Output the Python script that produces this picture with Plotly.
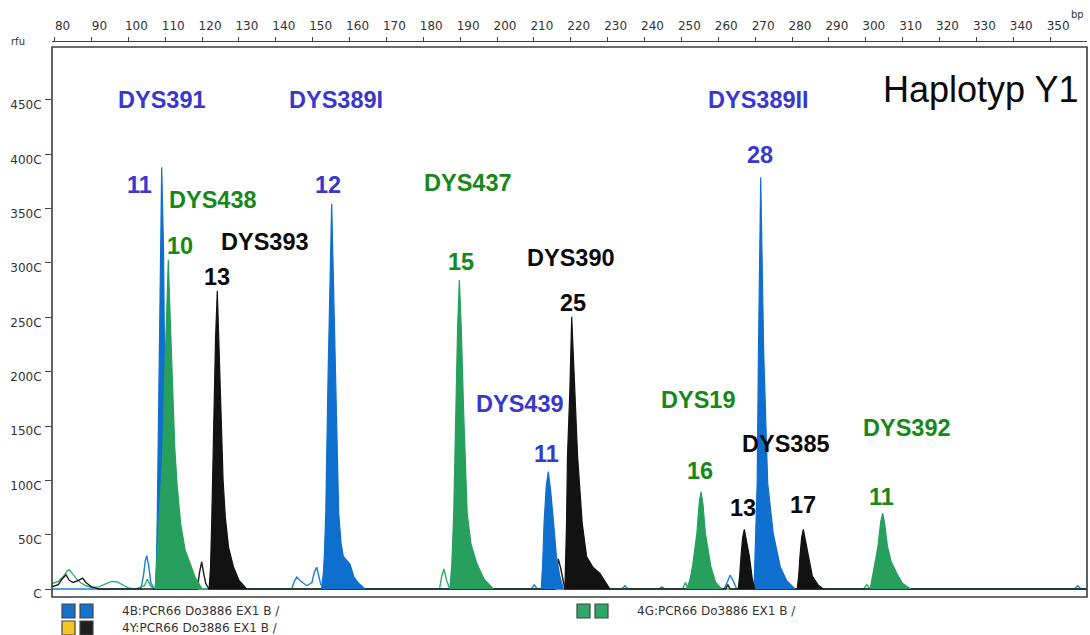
import plotly.graph_objects as go

W, H = 1090, 635

# ---------------- data ----------------
x_tickvals = list(range(80, 351, 10))
y_tickvals = [0, 500, 1000, 1500, 2000, 2500, 3000, 3500, 4000, 4500]
y_ticktext = ["C", "50C", "100C", "150C", "200C", "250C", "300C", "350C", "400C", "450C"]

# baseline / noise traces (bp, rfu)
blue_noise_bp = [79.3, 103.4, 104.1, 104.6, 105.0, 105.5, 106.1, 107.0, 112.0, 144.3, 145.0, 145.7, 146.5,
                 148.4, 149.8, 150.5, 151.1, 151.7, 152.2, 164.5, 209.3, 210.1, 210.9, 218.2, 233.9, 234.7,
                 235.5, 243.9, 244.7, 245.5, 261.6, 262.4, 263.2, 264.0, 265.0, 281.0, 356.6, 357.5, 358.4, 360.0]
blue_noise_rfu = [0, 0, 120, 260, 306, 220, 60, 0, 0, 0, 70, 110, 80,
                  30, 60, 160, 200, 120, 40, 0, 0, 40, 0, 0, 0, 30,
                  0, 0, 20, 0, 0, 60, 127, 80, 0, 0, 0, 30, 0, 0]

green_noise_bp = [79.3, 81.0, 82.5, 83.4, 84.0, 84.8, 85.8, 87.0, 88.5, 90.0, 92.0, 94.0, 95.5, 97.0, 98.5,
                  100.0, 102.0, 104.3, 105.2, 106.0, 107.0, 121.0, 184.4, 185.0, 185.6, 186.3, 187.2, 250.3,
                  251.1, 251.8, 299.4, 300.3, 301.2, 360.0]
green_noise_rfu = [50, 70, 120, 165, 178, 140, 100, 60, 30, 15, 20, 50, 70, 65, 40,
                   10, 0, 30, 90, 30, 0, 0, 0, 120, 184, 80, 0, 0,
                   60, 0, 0, 40, 0, 0]

black_noise_bp = [79.3, 81.0, 82.0, 83.1, 84.0, 85.0, 86.5, 87.6, 88.5, 90.0, 92.0, 118.7, 119.3, 119.9,
                  120.4, 121.0, 121.9, 132.5, 215.6, 216.1, 216.6, 217.2, 217.8, 218.4, 262.0, 262.6, 263.2,
                  360.0]
black_noise_rfu = [20, 40, 90, 130, 80, 60, 80, 100, 60, 20, 0, 0, 150, 250,
                   150, 50, 0, 0, 0, 150, 276, 200, 100, 0, 0, 40, 0,
                   0]

# called (filled) peaks, each as (bp list, rfu list)
blue_peaks = [
    ([107.3, 107.6, 107.85, 108.3, 108.7, 109.05, 109.55, 109.85, 110.2, 110.7, 111.3, 112.0],
     [0, 200, 665, 1890, 3120, 3880, 3120, 1890, 700, 300, 100, 0]),                  # DYS391 11
    ([152.4, 152.9, 153.15, 153.55, 154.15, 154.65, 155.15, 155.65, 156.25, 157.05, 157.7, 158.3, 159.3,
      160.1, 161.2, 162.5, 164.2],
     [0, 150, 300, 700, 1920, 2900, 3545, 2800, 1920, 700, 420, 300, 260,
      230, 110, 50, 0]),                                                               # DYS389I 12
    ([212.0, 212.4, 212.75, 213.35, 213.9, 214.55, 215.35, 216.1, 217.0, 218.0],
     [0, 250, 605, 950, 1080, 900, 605, 300, 120, 0]),                                 # DYS439 11
    ([269.7, 269.85, 270.2, 270.55, 270.9, 271.2, 271.51, 271.9, 272.3, 273.4, 274.9, 276.8, 278.5, 280.8],
     [0, 205, 513, 973, 2200, 3100, 3789, 3000, 2200, 973, 513, 205, 80, 0]),          # DYS389II 28
]
green_peaks = [
    ([107.3, 107.8, 108.6, 109.3, 109.8, 110.35, 110.84, 111.35, 112.0, 112.6, 113.2, 114.2, 115.4, 117.0,
      118.1, 120.0],
     [0, 300, 700, 1200, 1890, 2600, 3030, 2500, 1890, 1300, 970, 600, 360, 200,
      110, 0]),                                                                        # DYS438 10
    ([187.2, 187.75, 188.25, 188.8, 189.3, 189.77, 190.3, 190.95, 191.9, 192.9, 194.5, 196.5, 199.0],
     [0, 236, 697, 1617, 2400, 2843, 2400, 1617, 697, 420, 236, 90, 0]),               # DYS437 15
    ([251.4, 252.3, 253.0, 254.2, 254.85, 255.32, 255.85, 256.5, 258.0, 259.3, 260.9],
     [0, 80, 205, 513, 800, 895, 780, 513, 205, 60, 0]),                               # DYS19 16
    ([301.2, 302.0, 303.3, 304.05, 304.6, 305.15, 305.9, 306.9, 308.4, 310.0, 312.2],
     [0, 144, 389, 620, 697, 600, 389, 250, 144, 50, 0]),                              # DYS392 11
]
black_peaks = [
    ([121.9, 122.3, 122.65, 123.15, 123.65, 124.13, 124.55, 125.15, 125.7, 126.3, 127.2, 128.5, 130.0, 132.1],
     [0, 200, 665, 1590, 2300, 2745, 2300, 1590, 1000, 665, 380, 205, 80, 0]),         # DYS393 13
    ([218.4, 218.7, 218.85, 219.1, 219.75, 220.25, 221.0, 221.85, 223.1, 224.3, 226.0, 227.9, 230.6],
     [0, 297, 605, 1218, 1830, 2506, 1830, 1218, 605, 297, 200, 144, 0]),              # DYS390 25
    ([265.4, 265.8, 266.15, 266.6, 267.06, 267.6, 268.45, 269.2, 269.9],
     [0, 120, 297, 470, 549, 450, 297, 100, 0]),                                       # DYS385 13
    ([281.4, 281.8, 282.15, 282.6, 283.06, 283.6, 284.45, 285.5, 287.0, 288.5],
     [0, 120, 297, 470, 549, 450, 297, 120, 40, 0]),                                   # DYS385 17
]

# labels: (text, bp, rfu, colour key)
marker_labels = [
    ("DYS391", 109.2, 4500, "b"), ("DYS389I", 156.3, 4500, "b"), ("DYS389II", 270.8, 4500, "b"),
    ("DYS438", 123.0, 3580, "g"), ("DYS437", 192.0, 3740, "g"), ("DYS393", 137.2, 3190, "k"),
    ("DYS390", 220.1, 3050, "k"), ("DYS439", 206.3, 1700, "b"), ("DYS19", 254.5, 1740, "g"),
    ("DYS392", 311.2, 1480, "g"), ("DYS385", 278.4, 1330, "k"),
]
allele_labels = [
    ("11", 103.0, 3720, "b"), ("10", 114.0, 3160, "g"), ("13", 124.0, 2870, "k"),
    ("12", 154.1, 3720, "b"), ("15", 190.2, 3010, "g"), ("25", 220.6, 2630, "k"),
    ("11", 213.3, 1240, "b"), ("28", 271.4, 3990, "b"), ("16", 255.1, 1090, "g"),
    ("13", 266.8, 750, "k"), ("17", 283.0, 770, "k"), ("11", 304.4, 850, "g"),
]
legend_rows = [
    ("4B:PCR66 Do3886 EX1 B /", ["#1673cc", "#1673cc"], 62, 611),
    ("4Y:PCR66 Do3886 EX1 B /", ["#f5c623", "#1e1e1e"], 62, 628),
    ("4G:PCR66 Do3886 EX1 B /", ["#2fa866", "#2fa866"], 577, 611),
]

# ---------------- styles ----------------
FILL = {"b": "#0f6fcf", "g": "#27a05e", "k": "#121212"}
LINE = {"b": "#1d7fd8", "g": "#2fae66", "k": "#1a1a1a"}
TEXT = {"b": "#3838cc", "g": "#16881a", "k": "#0a0a0a"}

X_RANGE = [79.3, 360.0]
Y_RANGE = [-73.6, 4987.6]
XD = [52 / W, 1087 / W]
YD = [(H - 597) / H, (H - 47) / H]


def px(x):
    return x / W


def py(y):
    return 1 - y / H


fig = go.Figure()

for bp, rfu, key in [(blue_noise_bp, blue_noise_rfu, "b"), (green_noise_bp, green_noise_rfu, "g"),
                     (black_noise_bp, black_noise_rfu, "k")]:
    fig.add_trace(go.Scatter(x=bp, y=rfu, mode="lines", line=dict(color=LINE[key], width=1.4),
                             hoverinfo="skip", showlegend=False))

for peaks, key in [(blue_peaks, "b"), (green_peaks, "g"), (black_peaks, "k")]:
    for bp, rfu in peaks:
        fig.add_trace(go.Scatter(x=bp, y=rfu, mode="lines", fill="toself", fillcolor=FILL[key],
                                 line=dict(color=FILL[key], width=1.2), hoverinfo="skip", showlegend=False))

for txt, bp, rfu, key in marker_labels + allele_labels:
    fig.add_annotation(x=bp, y=rfu, text="<b>" + txt + "</b>", showarrow=False, xanchor="center",
                       yanchor="middle",
                       font=dict(family="Liberation Sans, Arial", size=23.5, color=TEXT[key]))

fig.add_annotation(xref="paper", yref="paper", x=px(980), y=py(90), text="Haplotyp Y1", showarrow=False,
                   xanchor="center", yanchor="middle",
                   font=dict(family="Liberation Sans, Arial", size=36, color="#0a0a0a"))
fig.add_annotation(xref="paper", yref="paper", x=px(18), y=py(42), text="rfu", showarrow=False,
                   xanchor="center", yanchor="middle", font=dict(family="DejaVu Sans", size=10, color="#333"))
fig.add_annotation(xref="paper", yref="paper", x=px(1077), y=py(14), text="bp", showarrow=False,
                   xanchor="center", yanchor="middle", font=dict(family="DejaVu Sans", size=10, color="#333"))

shapes = [dict(type="rect", xref="x domain", yref="y domain", x0=0, x1=1, y0=0, y1=1,
               line=dict(color="#3c3c3c", width=1.6), layer="above")]
for text, cols, x0, yc in legend_rows:
    for i, c in enumerate(cols):
        xa = x0 + i * 18
        shapes.append(dict(type="rect", xref="paper", yref="paper", x0=px(xa), x1=px(xa + 13),
                           y0=py(yc + 7), y1=py(yc - 7), fillcolor=c, line=dict(color="#444", width=1.2)))
    fig.add_annotation(xref="paper", yref="paper", x=px(x0 + 58), y=py(yc), text=text, showarrow=False,
                       xanchor="left", yanchor="middle",
                       font=dict(family="DejaVu Sans", size=12, color="#333"))

fig.update_layout(
    width=W, height=H,
    margin=dict(l=0, r=0, t=0, b=0),
    paper_bgcolor="white", plot_bgcolor="white",
    shapes=shapes,
    showlegend=False,
    xaxis=dict(domain=XD, range=X_RANGE, side="top", anchor="free", position=py(41),
               tickvals=x_tickvals, ticktext=[str(v) for v in x_tickvals], ticks="outside", ticklen=4,
               tickcolor="#444", showline=True, linecolor="#444", linewidth=1.2, showgrid=False,
               zeroline=False, ticklabelshift=8, ticklabelstandoff=2,
               tickfont=dict(family="DejaVu Sans", size=12, color="#333"), automargin=False, fixedrange=True),
    yaxis=dict(domain=YD, range=Y_RANGE, tickvals=y_tickvals, ticktext=y_ticktext, ticks="outside",
               ticklen=6, tickcolor="#444", showline=False, showgrid=False, zeroline=False,
               ticklabelshift=5, ticklabelstandoff=1,
               tickfont=dict(family="DejaVu Sans", size=12, color="#333"), automargin=False, fixedrange=True),
)

fig.write_html("out.html", config={"displayModeBar": False},
               post_script="document.body.style.margin='0px';document.body.style.overflow='hidden';")
